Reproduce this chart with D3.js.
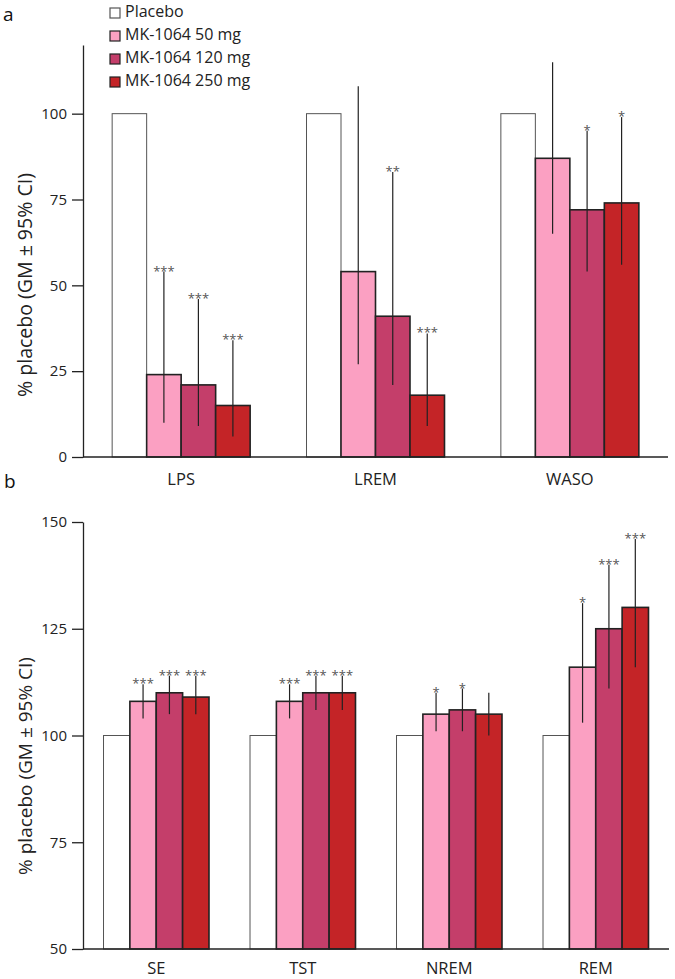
<!DOCTYPE html>
<html>
<head>
<meta charset="utf-8">
<script src="https://cdn.jsdelivr.net/npm/d3@7"></script>
<style>
  body { margin: 0; background: #fff; }
</style>
</head>
<body>
<svg id="chart" width="675" height="979"></svg>
<script>
// ===== Data =====
const doses = ["Placebo", "MK-1064 50 mg", "MK-1064 120 mg", "MK-1064 250 mg"];
const doseColors = ["#ffffff", "#fba0c2", "#c43e6a", "#c42427"];

// panel a
const catsA = ["LPS", "LREM", "WASO"];
const valsA = [[100, 24, 21, 15], [100, 54, 41, 18], [100, 87, 72, 74]];
const loA = [[null, 10, 9, 6], [null, 27, 21, 9], [null, 65, 54, 56]];
const hiA = [[null, 54, 46, 34], [null, 108, 83, 36], [null, 115, 95, 99]];
const starsA = [["", "***", "***", "***"], ["", "", "**", "***"], ["", "", "*", "*"]];
const ticksA = [0, 25, 50, 75, 100];

// panel b
const catsB = ["SE", "TST", "NREM", "REM"];
const valsB = [[100, 108, 110, 109], [100, 108, 110, 110], [100, 105, 106, 105], [100, 116, 125, 130]];
const loB = [[null, 104, 105, 105], [null, 104, 106, 106], [null, 101, 101, 100], [null, 103, 111, 116]];
const hiB = [[null, 112, 114, 114], [null, 112, 114, 114], [null, 110, 111, 110], [null, 131, 140, 146]];
const starsB = [["", "***", "***", "***"], ["", "***", "***", "***"], ["", "*", "*", ""], ["", "*", "***", "***"]];
const ticksB = [50, 75, 100, 125, 150];

const FONT = "'Open Sans', 'Noto Sans', sans-serif";
const svg = d3.select("#chart").style("font-family", FONT);
const yTitle = "% placebo (GM \u00b1 95% CI)";

function drawPanel(opt) {
  const g = svg.append("g");
  const x0 = d3.scaleBand().domain(opt.cats).range([opt.left, opt.right])
    .paddingInner(opt.padIn).paddingOuter(opt.padOut);
  const x1 = d3.scaleBand().domain(d3.range(doses.length)).range([0, x0.bandwidth()]);
  const y = d3.scaleLinear().domain(opt.domain).range([opt.bottom, opt.top]);

  // bars
  opt.cats.forEach((c, ci) => {
    const grp = g.append("g").attr("transform", `translate(${x0(c)},0)`);
    opt.vals[ci].forEach((v, di) => {
      grp.append("rect")
        .attr("x", x1(di))
        .attr("y", y(v))
        .attr("width", x1.bandwidth())
        .attr("height", y(opt.domain[0]) - y(v))
        .attr("fill", doseColors[di])
        .attr("stroke", di === 0 ? "#555" : "#222")
        .attr("stroke-width", di === 0 ? 1 : 1.6);
    });
    opt.vals[ci].forEach((v, di) => {
      const cx = x1(di) + x1.bandwidth() / 2;
      if (opt.hi[ci][di] != null) {
        grp.append("line")
          .attr("x1", cx).attr("x2", cx)
          .attr("y1", y(opt.lo[ci][di])).attr("y2", y(opt.hi[ci][di]))
          .attr("stroke", "#222").attr("stroke-width", 1.2);
      }
      if (opt.stars[ci][di]) {
        grp.append("text")
          .attr("x", cx)
          .attr("y", y(opt.hi[ci][di]) + 4)
          .attr("text-anchor", "middle")
          .attr("fill", "#555")
          .style("font-family", FONT)
          .style("font-size", "13px")
          .text(opt.stars[ci][di]);
      }
    });
  });

  // axes
  const yAxis = g.append("g").attr("transform", `translate(${opt.left},0)`)
    .call(d3.axisLeft(y).tickValues(opt.ticks).tickSize(11).tickSizeOuter(0).tickPadding(5));
  yAxis.select(".domain").attr("stroke", "#222").attr("stroke-width", 1.3);
  yAxis.selectAll(".tick line").attr("stroke", "#222").attr("stroke-width", 1.3);
  yAxis.selectAll(".tick text").style("font-family", FONT).style("font-size", "15px").attr("fill", "#222");

  const xAxis = g.append("g").attr("transform", `translate(0,${opt.bottom})`)
    .call(d3.axisBottom(x0).tickSize(0).tickSizeOuter(0).tickPadding(opt.catPad));
  xAxis.select(".domain").attr("stroke", "#222").attr("stroke-width", 1.3)
    .attr("d", `M${opt.left},0H${opt.right}`);
  xAxis.selectAll(".tick text").style("font-family", FONT).style("font-size", "16.5px").attr("fill", "#222");

  const title = g.append("text")
    .attr("transform", `translate(${opt.titleX},${opt.titleY}) rotate(-90)`)
    .attr("text-anchor", "middle")
    .attr("dominant-baseline", "middle")
    .attr("fill", "#222")
    .style("font-size", "16px")
    .text(yTitle);
  // fit the title to the length seen in the figure
  const len = title.node().getComputedTextLength();
  if (len > 0) title.style("font-size", (16 * opt.titleLen / len).toFixed(2) + "px");

  g.append("text")
    .attr("x", opt.letterX).attr("y", opt.letterY)
    .attr("fill", "#111")
    .style("font-size", "19px")
    .text(opt.letter);
}

drawPanel({
  cats: catsA, vals: valsA, lo: loA, hi: hiA, stars: starsA, ticks: ticksA,
  domain: [0, 120], left: 83, right: 668, top: 45, bottom: 457, catPad: 16,
  padIn: 0.29, padOut: 0.15, titleX: 27, titleY: 285, titleLen: 224,
  letter: "a", letterX: 3, letterY: 21
});

drawPanel({
  cats: catsB, vals: valsB, lo: loB, hi: hiB, stars: starsB, ticks: ticksB,
  domain: [50, 150], left: 83, right: 669, top: 522, bottom: 949, catPad: 13,
  padIn: 0.28, padOut: 0.14, titleX: 27, titleY: 766, titleLen: 218,
  letter: "b", letterX: 4, letterY: 488
});

// legend
const legend = svg.append("g");
doses.forEach((d, i) => {
  const ly = 13 + i * 23;
  legend.append("rect")
    .attr("x", 110).attr("y", ly - 5)
    .attr("width", 10).attr("height", 10)
    .attr("fill", doseColors[i])
    .attr("stroke", i === 0 ? "#555" : "#222")
    .attr("stroke-width", 1.2);
  legend.append("text")
    .attr("x", 125).attr("y", ly)
    .attr("dominant-baseline", "middle")
    .attr("fill", "#222")
    .style("font-size", "16px")
    .text(d);
});
</script>
</body>
</html>
